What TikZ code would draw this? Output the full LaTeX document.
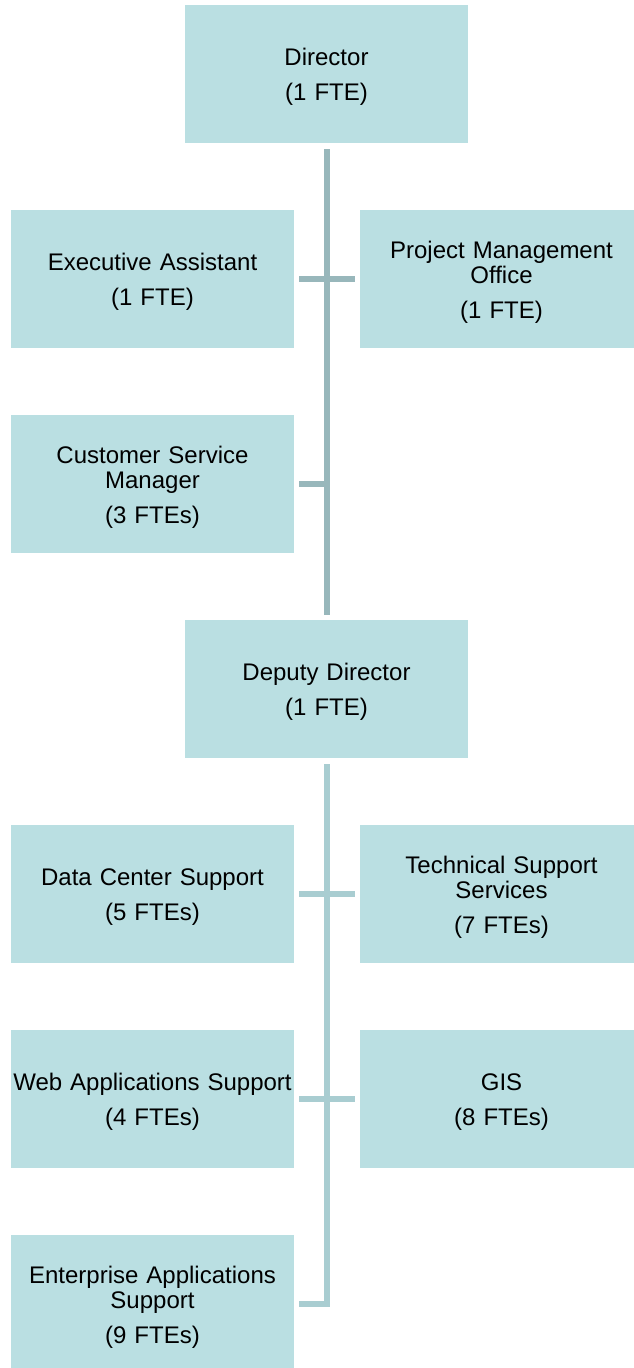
\documentclass[tikz,border=0pt]{standalone}
\usepackage{fontspec}
\setmainfont{Liberation Sans}
\usetikzlibrary{calc}
\definecolor{boxfill}{HTML}{BADFE2}
\definecolor{lineA}{HTML}{98B7BB}
\definecolor{lineB}{HTML}{A9CDD1}
\newcommand{\topstrut}{\rule{0pt}{23.5pt}}
\begin{document}
\begin{tikzpicture}[x=1pt,y=-1pt,
  box/.style={rectangle, fill=boxfill, minimum width=283pt, minimum height=138pt,
    inner sep=0pt, align=center, text width=281pt, font=\fontsize{24}{25}\selectfont},
  topln/.style={draw=lineA, line width=6pt},
  botln/.style={draw=lineB, line width=6pt}]
\useasboundingbox (0,0) rectangle (634,1368);
\fill[white] (0,0) rectangle (634,1368);
% nodes
\node[box] (dir) at (326.5,74)   {\topstrut Director\\[10pt](1 FTE)};
\node[box] (ea)  at (152.5,279)  {\topstrut Executive Assistant\\[10pt](1 FTE)};
\node[box] (pmo) at (501.5,279)  {\topstrut Project Management\\Office\\[10pt](1 FTE)};
\node[box] (csm) at (152.5,484)  {\topstrut Customer Service\\Manager\\[10pt](3 FTEs)};
\node[box] (dep) at (326.5,689)  {\topstrut Deputy Director\\[10pt](1 FTE)};
\node[box] (dcs) at (152.5,894)  {\topstrut Data Center Support\\[10pt](5 FTEs)};
\node[box] (tss) at (501.5,894)  {\topstrut Technical Support\\Services\\[10pt](7 FTEs)};
\node[box] (was) at (152.5,1099) {\topstrut Web Applications Support\\[10pt](4 FTEs)};
\node[box] (gis) at (501.5,1099) {\topstrut GIS\\[10pt](8 FTEs)};
\node[box] (eas) at (152.5,1304) {\topstrut Enterprise Applications\\Support\\[10pt](9 FTEs)};
% connector coordinates
\coordinate (t0) at ($(dir.south)+(0.5,6)$);
\coordinate (t1) at ($(dep.north)+(0.5,-5)$);
\coordinate (b0) at ($(dep.south)+(0.5,6)$);
% upper connectors
\draw[topln] (t0) -- (t1);
\draw[topln] ($(ea.east)+(5,0)$) -- ($(pmo.west)+(-5,0)$);
\draw[topln] ($(csm.east)+(5,0)$) -- (csm.east -| t0);
% lower connectors
\draw[botln] ($(dcs.east)+(5,0)$) -- ($(tss.west)+(-5,0)$);
\draw[botln] ($(was.east)+(5,0)$) -- ($(gis.west)+(-5,0)$);
\draw[botln, line join=miter] (b0) -- (eas.east -| b0) -- ($(eas.east)+(5,0)$);
\end{tikzpicture}
\end{document}
